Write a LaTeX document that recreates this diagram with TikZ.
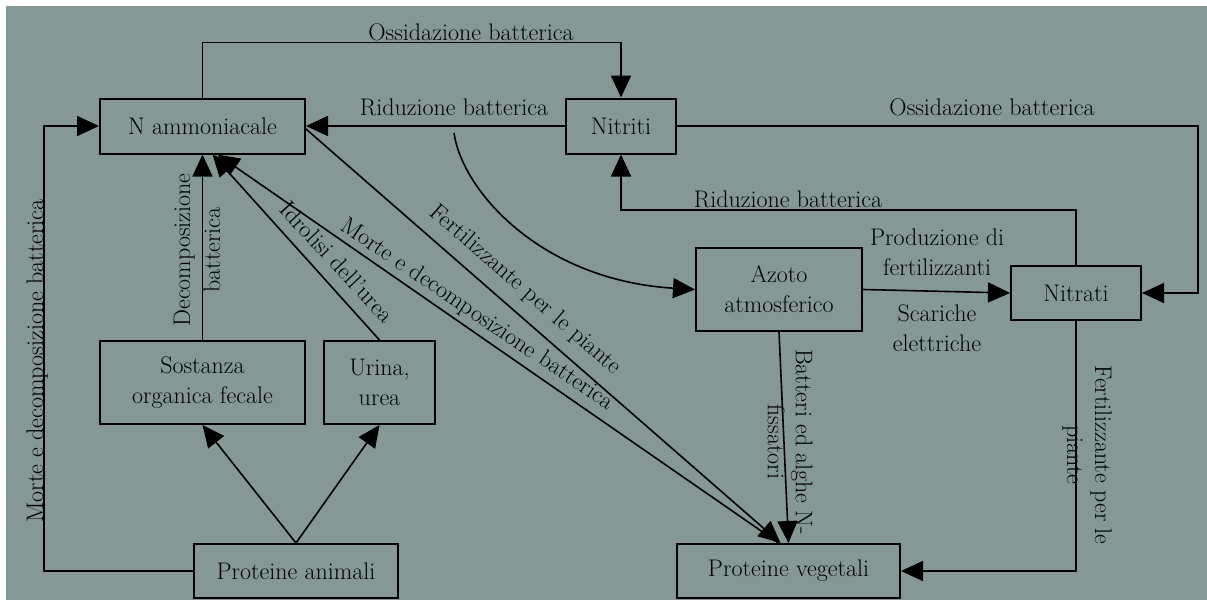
\documentclass[tikz,border=0pt]{standalone}
\usepackage{fontspec}
\usetikzlibrary{arrows.meta,calc}
\definecolor{sfondo}{HTML}{869895}

\begin{document}
\begin{tikzpicture}[x=1pt, y=-1pt, font=\fontsize{24}{30}\selectfont]
    % Stili
    \tikzstyle{box} = [rectangle, draw, line width=2pt, align=center, inner sep=0pt]
    \tikzstyle{etichetta} = [inner sep=0pt, align=center]
    \tikzstyle{stretta} = [font=\fontsize{24}{28}\selectfont]
    \tikzstyle{freccia} = [line width=1.6pt, -{Triangle[length=22pt,width=20pt]}]

    % Sfondo
    \path[use as bounding box] (0,0) rectangle (1207,600);
    \fill[sfondo] (6,6) rectangle (1207,600);

    % Nodi
    \node (ammoniacale) [box, minimum width=205pt, minimum height=55pt] at (202.5,126) {N ammoniacale};
    \node (nitriti) [box, minimum width=110pt, minimum height=55pt] at (621,126) {Nitriti};
    \node (nitrati) [box, minimum width=130pt, minimum height=54pt] at (1076,293) {Nitrati};
    \node (azoto) [box, minimum width=166pt, minimum height=83pt] at (779,289.5) {Azoto\\atmosferico};
    \node (sostanza) [box, minimum width=205pt, minimum height=83pt] at (202.5,382.5) {Sostanza\\organica fecale};
    \node (urina) [box, minimum width=111pt, minimum height=83pt] at (379.5,382.5) {Urina,\\urea};
    \node (animali) [box, minimum width=204pt, minimum height=54pt] at (296,571) {Proteine animali};
    \node (vegetali) [box, minimum width=223pt, minimum height=54pt] at (788.5,571) {Proteine vegetali};
    \coordinate (curva) at (454,133);

    % Frecce
    \draw [freccia] (ammoniacale.north) -- ++(0,-55) -| (nitriti.north);
    \draw [freccia] (nitriti.west) -- (ammoniacale.east);
    \draw [freccia] (nitriti.east) -- ++(521,0) |- (nitrati.east);
    \draw [freccia] (nitrati.north) -- ++(0,-55) -| (nitriti.south);
    \draw [freccia] (curva) .. controls (462,190) and (540,280) .. (azoto.west);
    \draw [freccia] (azoto.east) -- (nitrati.west);
    \draw [freccia] (azoto.south) -- (vegetali.north);
    \draw [freccia] (nitrati.south) |- (vegetali.east);
    \draw [freccia] (animali.west) -- ++(-149,0) |- (ammoniacale.west);
    \draw [freccia] (animali.north) -- (sostanza.south);
    \draw [freccia] (animali.north) -- (urina.south);
    \draw [freccia] (sostanza.north) -- (ammoniacale.south);
    \draw [freccia] (urina.north) -- ($(ammoniacale.south)+(10,0)$);
    \draw [freccia] ($(vegetali.north)+(-10,0)$) -- ($(ammoniacale.south)+(15,0)$);
    \draw [freccia] ($(ammoniacale.east)+(0,3)$) -- ($(vegetali.north)+(-8,0)$);

    % Etichette
    \node (ossid1) [etichetta, anchor=base] at (471,40) {Ossidazione batterica};
    \node (riduz1) [etichetta, anchor=base] at (454,115) {Riduzione batterica};
    \node (ossid2) [etichetta, anchor=base] at (992,115) {Ossidazione batterica};
    \node (riduz2) [etichetta, anchor=base] at (788,207) {Riduzione batterica};
    \node (produz) [etichetta] at (937,252) {Produzione di\\fertilizzanti};
    \node (scariche) [etichetta] at (937,328) {Scariche\\elettriche};
    \node (morte1) [etichetta, rotate=90, anchor=base] at (43,361) {Morte e decomposizione batterica};
    \node (decomp) [etichetta, rotate=90] at (197,250) {Decomposizione\\batterica};
    \node (idrolisi) [etichetta, rotate=-47] at (337,262) {Idrolisi dell’urea};
    \node (morte2) [etichetta, rotate=-34] at (477,315) {Morte e decomposizione batterica};
    \node (fert1) [etichetta, rotate=-41] at (525,290) {Fertilizzante per le piante};
    \node (batteri) [etichetta, stretta, rotate=-90] at (790,442) {Batteri ed alghe N-\\fissatori};
    \node (fert2) [etichetta, stretta, rotate=-90] at (1087,455) {Fertilizzante per le\\piante};
\end{tikzpicture}
\end{document}
